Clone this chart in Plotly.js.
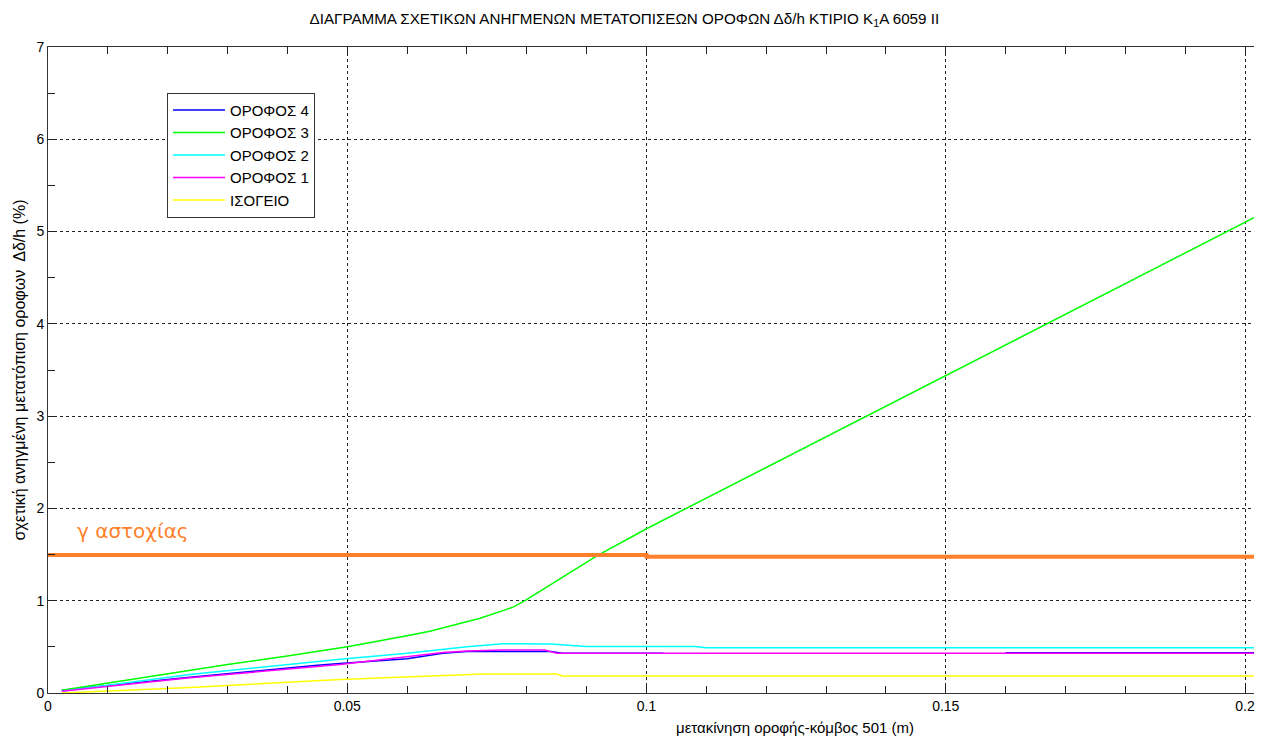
<!DOCTYPE html>
<html>
<head>
<meta charset="utf-8">
<script src="https://cdn.plot.ly/plotly-3.0.1.min.js"></script>
<style>html,body{margin:0;padding:0;background:#fff;}#chart{width:1269px;height:737px;}</style>
</head>
<body>
<div id="chart"></div>
<script>
// ΟΡΟΦΟΣ 4 (blue)
const floor4X = [0.0023, 0.0237, 0.045, 0.0488, 0.06, 0.066, 0.07, 0.084, 0.086, 0.1028, null, 0.16, 0.2015];
const floor4Y = [0.03, 0.17, 0.30, 0.32, 0.37, 0.43, 0.45, 0.45, 0.43, 0.43, null, 0.437, 0.437];
// ΟΡΟΦΟΣ 3 (green)
const floor3X = [0.0023, 0.01, 0.02, 0.03, 0.04, 0.05, 0.06, 0.0638, 0.0722, 0.0777, 0.0797, 0.0861, 0.0917, 0.1, 0.15, 0.2015];
const floor3Y = [0.03, 0.11, 0.21, 0.31, 0.40, 0.50, 0.62, 0.67, 0.81, 0.93, 1.0, 1.26, 1.485, 1.78, 3.44, 5.15];
// ΟΡΟΦΟΣ 2 (cyan)
const floor2X = [0.0023, 0.0237, 0.0488, 0.06, 0.07, 0.076, 0.084, 0.09, 0.108, 0.11, 0.2015];
const floor2Y = [0.02, 0.20, 0.365, 0.43, 0.50, 0.535, 0.53, 0.505, 0.505, 0.49, 0.49];
// ΟΡΟΦΟΣ 1 (magenta)
const floor1X = [0.0023, 0.0237, 0.0488, 0.06, 0.066, 0.07, 0.076, 0.083, 0.085, 0.2015];
const floor1Y = [0.02, 0.165, 0.31, 0.39, 0.44, 0.455, 0.466, 0.466, 0.43, 0.43];
// ΙΣΟΓΕΙΟ (yellow)
const groundX = [0.0023, 0.0237, 0.0488, 0.06, 0.0727, 0.085, 0.086, 0.2015];
const groundY = [0.0, 0.06, 0.145, 0.17, 0.206, 0.206, 0.185, 0.185];
// γ αστοχίας (orange)
const limitX = [0, 0.1, 0.1, 0.2015];
const limitY = [1.495, 1.495, 1.477, 1.477];

const xTickVals = [0, 0.05, 0.1, 0.15, 0.2];
const xTickText = ['0', '0.05', '0.1', '0.15', '0.2'];
const yTickVals = [0, 1, 2, 3, 4, 5, 6, 7];

const FONT = 'Arial, "Liberation Sans", sans-serif';

const traces = [
  {x: floor4X, y: floor4Y, name: 'ΟΡΟΦΟΣ 4', mode: 'lines', line: {color: '#0000ff', width: 1.5}, connectgaps: false},
  {x: floor3X, y: floor3Y, name: 'ΟΡΟΦΟΣ 3', mode: 'lines', line: {color: '#00ff00', width: 1.5}},
  {x: floor2X, y: floor2Y, name: 'ΟΡΟΦΟΣ 2', mode: 'lines', line: {color: '#00ffff', width: 1.5}},
  {x: floor1X, y: floor1Y, name: 'ΟΡΟΦΟΣ 1', mode: 'lines', line: {color: '#ff00ff', width: 1.5}},
  {x: groundX, y: groundY, name: 'ΙΣΟΓΕΙΟ', mode: 'lines', line: {color: '#ffff00', width: 1.5}},
  {x: limitX, y: limitY, name: 'γ αστοχίας', mode: 'lines', line: {color: '#ff7f2a', width: 4}, showlegend: false}
];

const layout = {
  width: 1269, height: 737,
  paper_bgcolor: '#fff', plot_bgcolor: '#fff',
  margin: {l: 48, r: 15, t: 47, b: 44},
  font: {family: FONT, size: 14, color: '#000'},
  title: {
    text: 'ΔΙΑΓΡΑΜΜΑ ΣΧΕΤΙΚΩΝ ΑΝΗΓΜΕΝΩΝ ΜΕΤΑΤΟΠΙΣΕΩΝ ΟΡΟΦΩΝ Δδ/h ΚΤΙΡΙΟ Κ<sub>1</sub>Α 6059 II',
    font: {family: FONT, size: 15.2, color: '#000'},
    x: 0.492, xanchor: 'center', xref: 'container',
    y: 0.975, yanchor: 'middle', yref: 'container'
  },
  xaxis: {
    range: [0, 0.2015],
    tickvals: xTickVals, ticktext: xTickText,
    ticks: 'inside', ticklen: 7, tickcolor: '#222', tickwidth: 1,
    showline: true, linecolor: '#333', linewidth: 1, mirror: 'ticks',
    showgrid: true, gridcolor: '#222', gridwidth: 1, griddash: '3px,3px',
    zeroline: false,
    minor: {dtick: 0.01, ticks: 'inside', ticklen: 7, tickcolor: '#222', showgrid: false},
    tickfont: {family: FONT, size: 14, color: '#000'}
  },
  yaxis: {
    range: [0, 7],
    tickvals: yTickVals,
    ticks: 'inside', ticklen: 7, tickcolor: '#222', tickwidth: 1,
    showline: true, linecolor: '#333', linewidth: 1, mirror: false,
    showgrid: true, gridcolor: '#222', gridwidth: 1, griddash: '3px,3px',
    zeroline: false,
    minor: {dtick: 0.5, ticks: 'inside', ticklen: 7, tickcolor: '#222', showgrid: false},
    tickfont: {family: FONT, size: 14, color: '#000'},
    title: {text: 'σχετική ανηγμένη μετατόπιση οροφων  Δδ/h (%)', font: {family: FONT, size: 16, color: '#000'}, standoff: 6}
  },
  legend: {
    x: 0.0987, y: 0.929, xanchor: 'left', yanchor: 'top',
    bgcolor: '#fff', bordercolor: '#333', borderwidth: 1,
    font: {family: FONT, size: 15, color: '#000'},
    itemwidth: 52, tracegroupgap: 0
  },
  annotations: [
    {
      x: 0.0045, y: 1.755, xref: 'x', yref: 'y', xanchor: 'left', yanchor: 'middle',
      text: 'γ αστοχίας', showarrow: false,
      font: {family: '"DejaVu Sans", Verdana, sans-serif', size: 20, color: '#ff7f2a'}
    },
    {
      x: 0.619, y: -0.054, xref: 'paper', yref: 'paper', xanchor: 'center', yanchor: 'middle',
      text: 'μετακίνηση οροφής-κόμβος 501 (m)', showarrow: false,
      font: {family: FONT, size: 15, color: '#000'}
    }
  ],
  showlegend: true
};

Plotly.newPlot('chart', traces, layout, {displayModeBar: false, responsive: false});
</script>
</body>
</html>
